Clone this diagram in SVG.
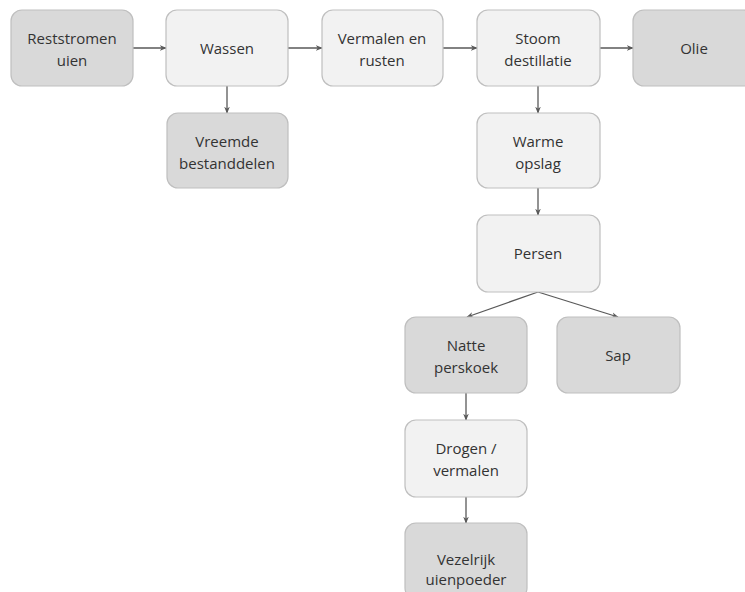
<svg xmlns="http://www.w3.org/2000/svg" width="745" height="592" viewBox="0 0 745 592">
<defs>
<marker id="ah" viewBox="0 0 10 10" refX="9" refY="5" markerWidth="7" markerHeight="7" markerUnits="userSpaceOnUse" orient="auto">
<path d="M0,1 L10,5 L0,9 L3,5 Z" fill="#595959"/>
</marker>
<style>
.box{stroke:#bfbfbf;stroke-width:1.2}
.dark{fill:#d9d9d9}
.light{fill:#f2f2f2}
text{font-family:"Open Sans","Liberation Sans",sans-serif;font-size:15px;font-weight:500;fill:#333333;text-anchor:middle}
.c line{stroke:#595959;stroke-width:1.3;marker-end:url(#ah)}
</style>
</defs>
<rect width="745" height="592" fill="#ffffff"/>
<g class="c" id="connectors">
<line x1="133" y1="48" x2="166" y2="48"/>
<line x1="288" y1="48" x2="322" y2="48"/>
<line x1="443" y1="48" x2="477" y2="48"/>
<line x1="600" y1="48" x2="633" y2="48"/>
<line x1="227" y1="86" x2="227" y2="113"/>
<line x1="538" y1="86" x2="538" y2="113"/>
<line x1="538" y1="188" x2="538" y2="215"/>
<line x1="538" y1="292" x2="467" y2="317"/>
<line x1="538" y1="292" x2="618" y2="317"/>
<line x1="466" y1="393" x2="466" y2="420"/>
<line x1="466" y1="497" x2="466" y2="523"/>
</g>
<g id="reststromen"><rect class="box dark" x="11" y="10" width="122" height="76" rx="11"/><text x="72" y="44">Reststromen</text><text x="72" y="66">uien</text></g>
<g id="wassen"><rect class="box light" x="166" y="10" width="122" height="76" rx="11"/><text x="227" y="54">Wassen</text></g>
<g id="vermalen"><rect class="box light" x="322" y="10" width="121" height="76" rx="11"/><text x="382" y="44">Vermalen en</text><text x="382" y="66">rusten</text></g>
<g id="stoom"><rect class="box light" x="477" y="10" width="123" height="76" rx="11"/><text x="538" y="44">Stoom</text><text x="538" y="66">destillatie</text></g>
<g id="olie"><rect class="box dark" x="633" y="10" width="122" height="76" rx="11"/><text x="694" y="54">Olie</text></g>
<g id="vreemde"><rect class="box dark" x="167" y="113" width="121" height="75" rx="11"/><text x="227" y="147">Vreemde</text><text x="227" y="169">bestanddelen</text></g>
<g id="warme"><rect class="box light" x="477" y="113" width="123" height="75" rx="11"/><text x="538" y="147">Warme</text><text x="538" y="169">opslag</text></g>
<g id="persen"><rect class="box light" x="477" y="215" width="123" height="77" rx="11"/><text x="538" y="259">Persen</text></g>
<g id="natte"><rect class="box dark" x="405" y="317" width="122" height="76" rx="11"/><text x="466" y="351">Natte</text><text x="466" y="373">perskoek</text></g>
<g id="sap"><rect class="box dark" x="557" y="317" width="123" height="76" rx="11"/><text x="618" y="361">Sap</text></g>
<g id="drogen"><rect class="box light" x="405" y="420" width="122" height="77" rx="11"/><text x="466" y="454">Drogen /</text><text x="466" y="476">vermalen</text></g>
<g id="vezelrijk"><rect class="box dark" x="405" y="523" width="122" height="76" rx="11"/><text x="466" y="565">Vezelrijk</text><text x="466" y="585">uienpoeder</text></g>
</svg>
